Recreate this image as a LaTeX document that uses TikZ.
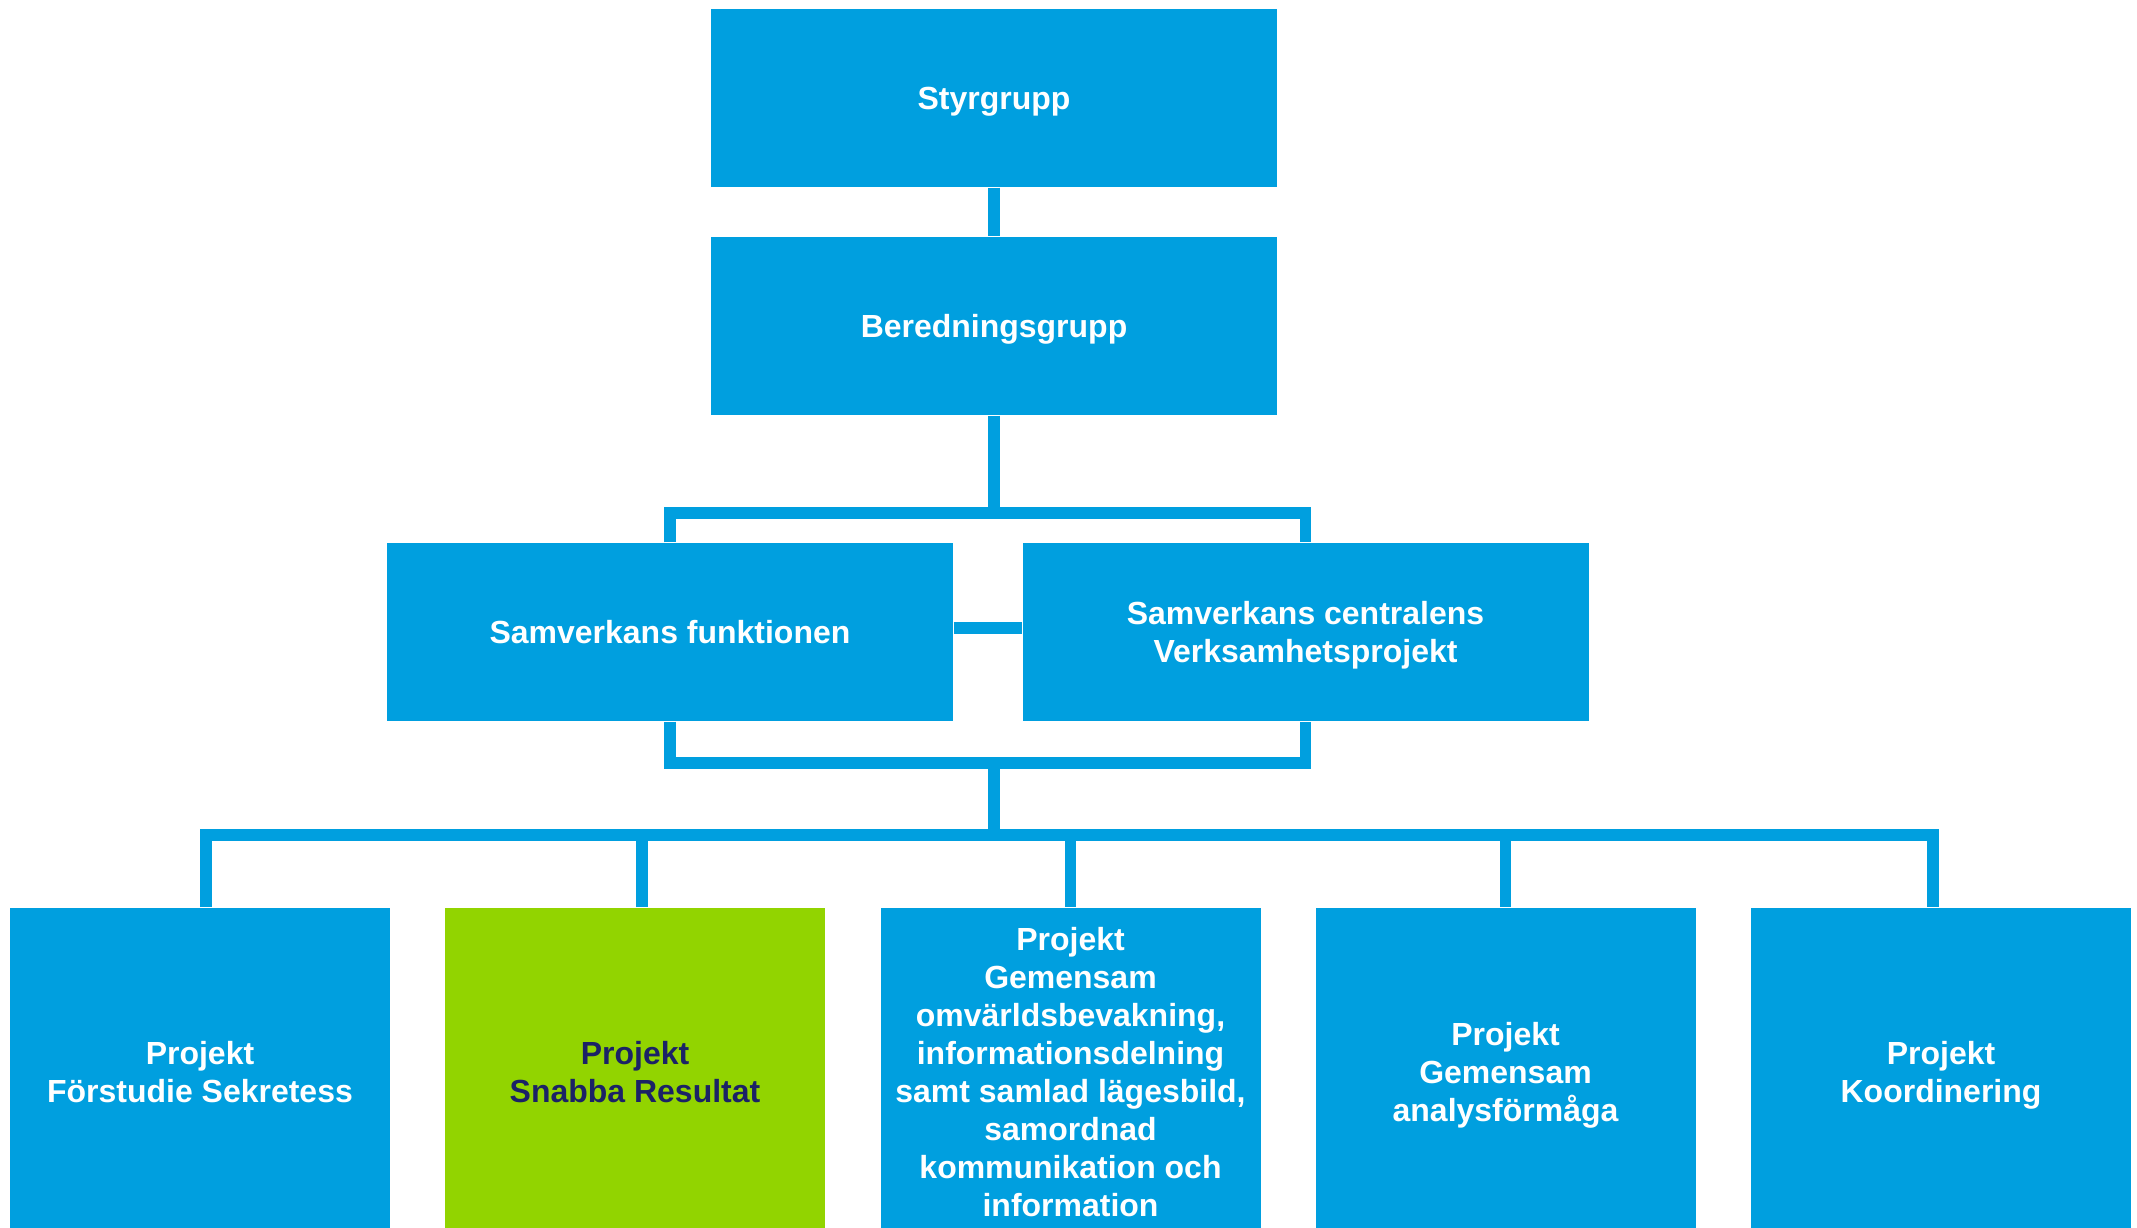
\documentclass[tikz,border=0pt]{standalone}
\usepackage{fontspec}
\setmainfont{Liberation Sans}
\definecolor{orgblue}{HTML}{009FDF}
\definecolor{orggreen}{HTML}{92D400}
\definecolor{orgnavy}{HTML}{1B2266}
\tikzset{
  unit/.style={rectangle, fill=orgblue, inner sep=0pt, align=center, text=white,
    text depth=0pt, font=\fontsize{9.1}{10.8}\selectfont\bfseries},
  topbox/.style={unit, minimum width=5.66cm, minimum height=1.78cm},
  projbox/.style={unit, minimum width=3.8cm, minimum height=3.28cm, anchor=north},
  link/.style={orgblue, line width=0.115cm, line join=miter}
}
\begin{document}
\begin{tikzpicture}
  \useasboundingbox (0,0) rectangle (21.37,-12.28);

  % Top of the organisation
  \node[topbox] (styr) at (9.94,-0.98) {Styrgrupp};
  \node[topbox] (bered) at (9.94,-3.26) {Beredningsgrupp};

  % Samverkan
  \node[topbox] (sfunk) at (6.70,-6.32) {Samverkans funktionen};
  \node[topbox] (scentral) at (13.055,-6.32) {Samverkans centralens\\Verksamhetsprojekt};

  % Projects
  \node[projbox] (p1) at (2.00,-9.07) {Projekt\\Förstudie Sekretess};
  \node[projbox, fill=orggreen, text=orgnavy] (p2) at (6.35,-9.07) {Projekt\\Snabba Resultat};
  \node[projbox] (p3) at (10.705,-9.07) {Projekt\\Gemensam\\omvärldsbevakning,\\informationsdelning\\samt samlad lägesbild,\\samordnad\\kommunikation och\\information};
  \node[projbox] (p4) at (15.055,-9.07) {Projekt\\Gemensam\\analysförmåga};
  \node[projbox] (p5) at (19.41,-9.07) {Projekt\\Koordinering};

  % Connectors
  \coordinate (upper) at (9.94,-5.13);
  \coordinate (lower) at (9.94,-7.63);
  \coordinate (bus) at (9.94,-8.35);
  \draw[link] (styr) -- (bered);
  \draw[link] (bered) -- (upper);
  \draw[link] (sfunk.north) |- (upper) -| (scentral.north);
  \draw[link] ([yshift=0.04cm]sfunk.east) -- ([yshift=0.04cm]scentral.west);
  \draw[link] (sfunk.south) |- (lower) -| (scentral.south);
  \draw[link] (lower) -- (bus);
  \draw[link] ([xshift=0.06cm]p1.north) |- (bus) -| ([xshift=-0.08cm]p5.north);
  \draw[link] ([xshift=0.07cm]p2.north) |- (bus);
  \foreach \p in {p3,p4}
    \draw[link] (bus -| \p.north) -- (\p.north);
\end{tikzpicture}
\end{document}
